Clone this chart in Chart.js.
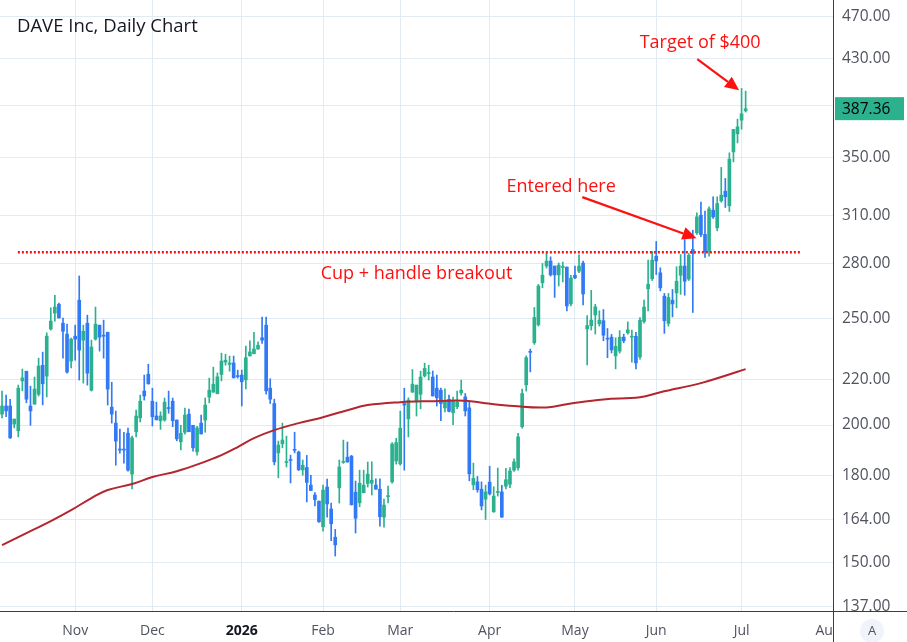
<!DOCTYPE html>
<html lang="en">
<head>
<meta charset="UTF-8">
<title>DAVE Inc, Daily Chart</title>
<script src="https://cdn.jsdelivr.net/npm/chart.js"></script>
<style>
  html, body { margin: 0; padding: 0; background: #fff; }
  canvas { display: block; }
</style>
</head>
<body>
<canvas id="daveChart" width="907" height="642"></canvas>
<script>
// daily candles, Oct 8 2025 .. Jul 2 2026 (one entry per trading day)
const open = [
  204.6,208.1,208.1,200.4,197.6,219.3,223.8,208.1,208.9,213.3,
  226.6,221.5,244.4,252.7,257.4,247.4,241.8,228.6,240.8,259.6,
  238.8,247.4,215.1,239.3,246.4,241.3,242.8,207.6,200.8,190.2,
  190.2,196.6,180.5,197.2,203.0,214.7,222.4,210.2,203.8,201.8,
  202.1,207.2,210.2,202.1,193.1,197.0,204.6,199.9,189.1,200.8,
  202.1,212.0,214.2,213.5,222.3,228.1,227.0,227.7,221.5,222.0,
  219.8,231.1,232.1,234.4,240.0,246.4,216.0,209.2,188.7,192.3,
  184.9,185.9,190.1,189.0,182.1,183.0,176.4,172.8,170.6,161.7,
  175.7,167.8,158.2,175.4,185.0,187.0,187.4,173.8,170.0,173.6,
  177.0,177.1,176.4,174.9,165.0,172.2,177.6,185.5,184.4,209.2,
  202.6,214.2,210.2,213.3,221.6,222.7,221.1,216.0,215.1,207.3,
  211.0,205.2,207.8,213.9,212.1,207.3,176.5,177.6,174.9,171.3,
  177.5,166.8,173.7,173.9,176.0,176.7,182.0,182.9,199.3,217.5,
  233.1,237.5,246.6,269.2,278.8,281.7,278.8,273.7,278.0,278.2,
  257.6,273.5,275.8,280.5,244.5,246.1,251.7,247.1,248.7,239.6,
  240.3,231.1,233.4,240.3,242.5,240.3,240.7,230.6,248.3,265.8,
  271.5,284.6,274.9,261.8,247.3,259.6,263.6,273.5,278.8,271.3,
  288.6,298.8,310.0,297.9,287.8,313.3,302.0,319.5,326.0,316.2,
  353.9,367.5,378.2,385.6
];
const high = [
  214.7,212.9,211.0,202.5,217.4,224.8,223.8,216.9,221.1,230.0,
  232.9,242.5,255.5,262.3,258.0,250.1,246.9,239.8,246.4,273.1,
  246.4,251.6,238.8,255.9,246.4,249.0,242.8,218.7,205.9,198.3,
  197.0,198.7,195.4,206.3,212.9,222.0,227.1,216.0,209.8,205.6,
  211.6,214.7,211.6,202.1,199.9,207.2,206.8,199.9,199.5,204.2,
  211.6,220.6,225.7,223.0,232.4,231.9,231.0,231.0,224.3,224.3,
  235.9,238.5,242.8,238.0,250.6,250.6,220.3,211.1,193.4,200.8,
  195.4,187.8,197.0,189.4,185.9,187.7,180.0,173.7,170.6,176.4,
  178.6,169.9,160.8,185.9,193.8,193.0,187.7,177.9,182.0,182.0,
  185.1,185.2,178.7,178.7,171.3,176.0,192.8,194.5,205.9,216.0,
  211.7,224.6,217.4,223.8,227.6,226.6,223.9,222.0,216.0,215.7,
  212.9,212.0,214.7,219.7,213.6,209.9,184.7,179.6,177.6,176.4,
  183.5,175.8,182.8,176.3,182.7,183.0,186.4,196.6,215.6,231.1,
  234.4,255.7,268.3,280.3,286.8,284.2,278.8,280.6,281.1,278.2,
  273.5,278.8,285.4,281.7,251.4,265.0,257.4,253.9,254.6,244.7,
  241.7,240.0,243.6,241.8,248.1,243.9,242.8,250.4,259.6,282.3,
  287.4,293.5,277.8,263.3,263.3,265.5,278.4,285.6,294.7,286.2,
  300.5,311.6,318.6,312.7,315.5,322.2,322.2,342.6,334.8,353.2,
  370.9,379.0,404.1,401.8
];
const low = [
  203.0,203.5,194.5,198.8,195.1,214.8,209.5,199.9,208.9,212.5,
  208.6,212.1,243.9,248.5,250.1,230.0,222.9,225.3,229.0,219.7,
  218.3,217.4,214.7,238.8,233.4,230.0,208.5,200.8,183.9,188.6,
  184.7,181.6,175.0,195.1,201.3,210.7,217.8,199.6,202.1,198.2,
  201.6,205.0,199.3,193.5,189.9,196.2,197.2,189.4,187.8,196.3,
  197.0,209.5,214.2,213.5,219.3,226.6,223.8,220.7,220.6,208.1,
  215.7,231.0,232.1,234.4,237.2,213.3,209.2,184.0,179.1,190.7,
  183.2,177.2,188.7,181.9,180.1,170.3,174.4,168.9,163.2,160.2,
  165.0,157.1,152.1,169.9,184.6,185.1,169.2,159.6,168.6,173.6,
  175.7,172.8,174.9,161.9,161.6,170.0,177.1,184.3,183.9,182.0,
  195.1,214.2,203.8,206.9,221.1,219.7,212.5,208.1,201.8,205.6,
  205.5,200.1,207.0,212.9,203.8,178.0,174.7,173.8,167.5,164.2,
  172.8,166.7,172.4,164.9,175.0,175.5,181.5,182.0,198.7,214.7,
  223.5,236.7,245.9,266.4,277.6,273.0,261.1,267.4,269.7,253.9,
  256.5,271.5,275.0,257.1,226.8,243.9,241.9,245.9,238.5,230.2,
  232.5,224.9,232.4,237.5,241.8,228.1,224.9,229.5,247.4,253.9,
  270.5,273.9,264.7,242.2,245.9,250.7,255.5,262.8,262.3,270.5,
  253.0,297.8,296.4,283.9,284.6,308.0,300.1,318.6,315.1,312.5,
  346.6,360.6,371.1,384.6
];
const close = [
  208.1,206.0,194.7,202.5,216.0,220.7,211.1,206.0,215.6,226.2,
  218.0,240.8,248.5,255.9,250.1,243.3,223.4,239.3,239.3,233.9,
  243.3,222.9,235.4,246.9,240.3,240.8,215.6,204.6,193.4,189.8,
  189.8,182.0,194.7,203.8,210.2,212.5,218.0,203.5,202.2,203.8,
  209.8,207.0,201.8,194.3,196.6,204.2,197.2,190.7,198.8,196.3,
  208.5,215.1,217.8,221.2,228.6,229.0,227.7,220.7,221.3,218.9,
  230.2,233.0,234.4,236.3,238.8,214.8,211.1,185.2,191.8,193.8,
  185.1,185.7,189.7,182.1,183.9,177.4,174.4,171.1,163.4,174.6,
  169.6,162.7,155.7,183.2,185.3,185.1,169.3,164.6,177.1,176.4,
  180.5,178.2,174.9,165.1,169.2,172.4,192.2,192.8,198.7,208.5,
  210.7,217.8,217.4,221.1,225.1,222.9,212.5,211.7,209.2,210.4,
  205.8,210.4,209.9,215.1,206.0,180.6,178.9,174.7,168.9,173.9,
  173.2,172.4,173.8,165.0,178.4,181.7,185.2,195.1,213.6,230.2,
  232.8,250.4,267.4,273.5,281.7,273.7,273.7,279.3,278.2,256.5,
  271.9,272.0,278.8,263.0,246.2,249.0,256.0,249.0,241.3,239.3,
  234.0,235.7,240.3,238.5,244.0,240.6,227.7,249.0,255.9,268.4,
  282.3,281.8,266.4,248.7,261.1,257.6,270.1,278.8,270.1,285.2,
  286.2,309.0,297.8,287.4,314.2,309.0,317.7,323.3,322.2,348.6,
  370.9,372.9,383.2,387.36
];

// 200-day moving average, read at a few bars
const maBar   = [0, 7, 12, 17, 22, 26, 32, 37, 43, 49, 54, 58, 62, 67, 73, 79, 85, 90, 98, 105, 114, 119, 126, 134, 140, 148, 157, 162, 172, 177, 183];
const maValue = [155.6, 160.2, 163.6, 167.4, 171.7, 174.6, 176.8, 179.4, 181.6, 184.7, 187.8, 191.0, 194.6, 197.9, 200.8, 203.3, 206.3, 208.5, 209.8, 210.2, 210.4, 209.3, 208.1, 207.5, 209.2, 211.0, 211.9, 214.2, 218.3, 221.1, 224.8];

// time axis: bar slots (incl. empty future days) and month starts
const slotCount = 205;
const monthLabels = ['Nov', 'Dec', '2026', 'Feb', 'Mar', 'Apr', 'May', 'Jun', 'Jul', 'Aug'];
const monthStartBar = [18, 37, 59, 79, 98, 120, 141, 161, 182, 204];

const priceTicks = [137, 150, 164, 180, 200, 220, 250, 280, 310, 350, 390, 430, 470];

// annotations
const breakoutLevel = 287;
const breakoutFrom = 3.9, breakoutTo = 196.7;
const notes = [
  { text: 'Target of $400', bar: 171.8, price: 445 },
  { text: 'Entered here', bar: 137.6, price: 329.5 },
  { text: 'Cup + handle breakout', bar: 102, price: 274.7 }
];
const arrows = [
  { from: [171.1, 429.6], to: [181.4, 402.6] },
  { from: [142.8, 322.0], to: [170.9, 295.5] }
];

const upColor = '#2cb18f';
const downColor = '#3179f5';
const maColor = '#b3262f';
const noteColor = '#ff1010';
const gridColor = '#e3ebf2';
const axisText = '#50535e';
const font = "'Open Sans', sans-serif";

const labels = Array.from({ length: slotCount }, (_, i) => i);
const candleColors = open.map((o, i) => close[i] >= o ? upColor : downColor);
const bodies = open.map((o, i) => [o, close[i]]);
const wicks = low.map((l, i) => [l, high[i]]);
const maSeries = new Array(slotCount).fill(null);
maBar.forEach((b, k) => { maSeries[b] = maValue[k]; });

function drawArrow(ctx, x1, y1, x2, y2) {
  const ang = Math.atan2(y2 - y1, x2 - x1);
  const head = 14, half = 6.5;
  const bx = x2 - head * Math.cos(ang), by = y2 - head * Math.sin(ang);
  ctx.beginPath();
  ctx.moveTo(x1, y1);
  ctx.lineTo(bx, by);
  ctx.stroke();
  ctx.beginPath();
  ctx.moveTo(x2, y2);
  ctx.lineTo(bx + half * Math.sin(ang), by - half * Math.cos(ang));
  ctx.lineTo(bx - half * Math.sin(ang), by + half * Math.cos(ang));
  ctx.closePath();
  ctx.fill();
}

const overlay = {
  id: 'overlay',
  afterDatasetsDraw(chart) {
    const { ctx, chartArea: a, scales: { x, y } } = chart;
    ctx.save();
    ctx.beginPath();
    ctx.rect(a.left, a.top, a.right - a.left, a.bottom - a.top);
    ctx.clip();

    // breakout level
    const ly = y.getPixelForValue(breakoutLevel);
    ctx.strokeStyle = noteColor;
    ctx.lineWidth = 2.5;
    ctx.setLineDash([2, 2]);
    ctx.beginPath();
    ctx.moveTo(x.getPixelForValue(breakoutFrom), ly);
    ctx.lineTo(x.getPixelForValue(breakoutTo), ly);
    ctx.stroke();
    ctx.setLineDash([]);

    // arrows
    ctx.fillStyle = noteColor;
    ctx.lineWidth = 2.2;
    arrows.forEach(ar => {
      drawArrow(ctx,
        x.getPixelForValue(ar.from[0]), y.getPixelForValue(ar.from[1]),
        x.getPixelForValue(ar.to[0]), y.getPixelForValue(ar.to[1]));
    });

    // notes
    ctx.font = '18px ' + font;
    ctx.textAlign = 'center';
    ctx.textBaseline = 'middle';
    notes.forEach(n => {
      ctx.fillText(n.text, x.getPixelForValue(n.bar), y.getPixelForValue(n.price) + 1);
    });
    ctx.restore();
  },
  afterDraw(chart) {
    const { ctx, chartArea: a, scales: { x, y }, width, height } = chart;
    ctx.save();

    // title
    ctx.fillStyle = '#131722';
    ctx.font = '18.5px ' + font;
    ctx.textAlign = 'left';
    ctx.textBaseline = 'middle';
    ctx.fillText('DAVE Inc, Daily Chart', 17, 27);

    // axis lines
    ctx.strokeStyle = '#3a3e48';
    ctx.lineWidth = 1;
    ctx.beginPath();
    ctx.moveTo(Math.round(a.right) + 0.5, 0);
    ctx.lineTo(Math.round(a.right) + 0.5, height);
    ctx.moveTo(0, Math.round(a.bottom) + 0.5);
    ctx.lineTo(width, Math.round(a.bottom) + 0.5);
    ctx.stroke();

    // last price tag
    const last = close[close.length - 1];
    const py = y.getPixelForValue(last);
    ctx.fillStyle = upColor;
    ctx.fillRect(a.right + 2, py - 11.5, 69, 23);
    ctx.fillStyle = '#000';
    ctx.font = '15.5px ' + font;
    ctx.textAlign = 'left';
    ctx.fillText(last.toFixed(2), a.right + 9, py + 0.5);

    // last month label, cut at the price axis
    const aug = monthStartBar[monthStartBar.length - 1];
    ctx.save();
    ctx.beginPath();
    ctx.rect(a.left, a.bottom + 1, a.right - a.left, height - a.bottom);
    ctx.clip();
    ctx.fillStyle = axisText;
    ctx.font = '14px ' + font;
    ctx.textAlign = 'center';
    ctx.fillText(monthLabels[monthLabels.length - 1], x.getPixelForValue(aug) - 3, a.bottom + 20);
    ctx.restore();

    // auto-scale button
    ctx.fillStyle = '#f0f3fa';
    ctx.beginPath();
    ctx.arc(872, a.bottom + 20, 12, 0, Math.PI * 2);
    ctx.fill();
    ctx.fillStyle = '#50535e';
    ctx.font = '13px ' + font;
    ctx.textAlign = 'center';
    ctx.fillText('A', 872, a.bottom + 20);
    ctx.restore();
  }
};

const ctx = document.getElementById('daveChart').getContext('2d');

const daveChart = new Chart(ctx, {
  type: 'bar',
  data: {
    labels: labels,
    datasets: [
      {
        type: 'line',
        label: 'MA 200',
        data: maSeries,
        borderColor: maColor,
        borderWidth: 2,
        pointRadius: 0,
        tension: 0.4,
        spanGaps: true,
        order: 0
      },
      {
        label: 'Body',
        data: bodies,
        backgroundColor: candleColors,
        barThickness: 3,
        minBarLength: 1,
        grouped: false,
        order: 1
      },
      {
        label: 'Wick',
        data: wicks,
        backgroundColor: candleColors,
        barThickness: 1,
        grouped: false,
        order: 2
      }
    ]
  },
  options: {
    responsive: false,
    animation: false,
    events: [],
    layout: { padding: 0 },
    plugins: {
      legend: { display: false },
      tooltip: { enabled: false }
    },
    scales: {
      x: {
        type: 'category',
        offset: true,
        grid: { offset: false, color: gridColor, drawTicks: false },
        border: { display: false },
        afterBuildTicks: s => { s.ticks = monthStartBar.slice(0, -1).map(v => ({ value: v })); },
        ticks: {
          autoSkip: false,
          maxRotation: 0,
          minRotation: 0,
          padding: 12,
          color: c => (c.tick && c.tick.value === monthStartBar[2]) ? '#131722' : axisText,
          font: c => ({ family: font, size: 14, weight: (c.tick && c.tick.value === monthStartBar[2]) ? 'bold' : 'normal' }),
          callback: v => monthLabels[monthStartBar.indexOf(v)]
        },
        afterFit: s => { s.height = 31; s.paddingLeft = 0; s.paddingRight = 0; }
      },
      y: {
        type: 'logarithmic',
        position: 'right',
        min: 135.6,
        max: 486.1,
        bounds: 'data',
        grid: { color: gridColor, drawTicks: false },
        border: { display: false },
        afterBuildTicks: s => { s.ticks = priceTicks.map(v => ({ value: v })); },
        ticks: {
          autoSkip: false,
          padding: 9,
          color: axisText,
          font: { family: font, size: 15.5 },
          callback: v => v === 390 ? '' : v.toFixed(2)
        },
        afterFit: s => { s.width = 74; s.paddingTop = 0; s.paddingBottom = 0; }
      }
    }
  },
  plugins: [overlay]
});
</script>
</body>
</html>
